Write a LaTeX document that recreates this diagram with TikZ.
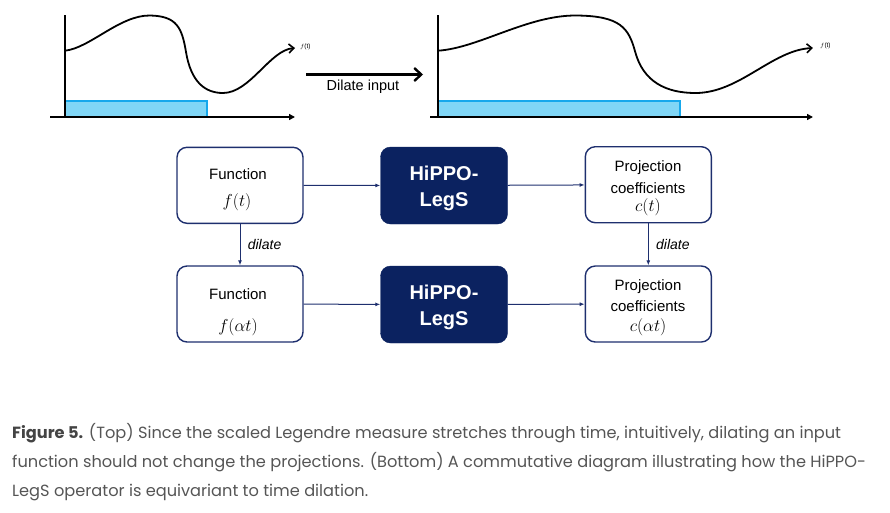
\documentclass[tikz,border=0pt]{standalone}
\usepackage{fontspec}
\setmainfont{Liberation Sans}
\newfontfamily\capfont{Poppins}
\usetikzlibrary{arrows.meta}
\definecolor{navy}{HTML}{0B2260}
\definecolor{navyline}{HTML}{1E2F6E}
\definecolor{bluefill}{HTML}{80D6F6}
\definecolor{blueline}{HTML}{16A8EC}
\definecolor{capgray}{HTML}{555555}
\definecolor{capdark}{HTML}{444444}
\begin{document}
\begin{tikzpicture}[x=1pt,y=-1pt,
  whitebox/.style={draw=navyline, line width=1.4pt, rounded corners=10pt, fill=white,
    minimum width=126pt, minimum height=76pt, inner sep=0pt},
  darkbox/.style={draw=navy, fill=navy, rounded corners=10pt,
    minimum width=127pt, minimum height=77pt, inner sep=0pt},
  boxtxt/.style={inner sep=0pt, font=\fontsize{15}{18}\selectfont},
  mathtxt/.style={inner sep=0pt, font=\fontsize{19}{22}\selectfont},
  hippotxt/.style={inner sep=0pt, text=white, font=\fontsize{20}{24}\selectfont\bfseries},
  flow/.style={draw=navyline, line width=1pt, -{Latex[length=5pt,width=4pt]}},
  lbl/.style={font=\fontsize{14}{16}\selectfont\itshape, text=black},
  curve/.style={line width=1.8pt, line cap=round, -{Straight Barb[length=5pt,width=9pt,line width=1.6pt]}},
  axis/.style={line width=1.8pt},
  band/.style={fill=bluefill, draw=blueline, line width=1.5pt},
  tiny/.style={font=\fontsize{6.5}{7}\selectfont, inner sep=0pt, anchor=west},
  capline/.style={anchor=base west, inner sep=0pt, text=capgray, font=\capfont\fontsize{16.2}{19}\selectfont}
]
\useasboundingbox (0,0) rectangle (890,512);

% ---------- left plot ----------
\draw[band] (65,101) rectangle (207,117);
\draw[axis] (65,15) -- (65,117);
\draw[axis,-{Triangle[length=6pt,width=6pt]}] (50,117) -- (295,117);
\begin{scope}[shift={(65,0)}]
\coordinate (l0) at (0,50.7);
\coordinate (ltip) at (230,48);
\draw[curve] (l0) .. controls (25,48) and (55,15) .. (85,15.5)
  .. controls (112,16) and (117,28) .. (121,52)
  .. controls (126,82) and (140,93) .. (158,93)
  .. controls (185,93) and (205,50) .. (ltip);
\end{scope}
\node[tiny] (lf) at (300,47) {$f$(t)};

% ---------- dilate input arrow ----------
\coordinate (da) at (306,74.5);
\coordinate (db) at (423,74.5);
\draw[line width=2.6pt, -{Straight Barb[length=7pt,width=13pt,line width=2.4pt]}] (da) -- (db);
\node[font=\fontsize{14.5}{16}\selectfont] (dl) at (363,87) {Dilate input};

% ---------- right plot ----------
\draw[band] (438,101) rectangle (680,117);
\draw[axis] (438,15) -- (438,117);
\draw[axis,-{Triangle[length=6pt,width=6pt]}] (430,117) -- (813,117);
\begin{scope}[shift={(438,0)}, xscale=1.63]
\coordinate (r0) at (0,50.7);
\coordinate (rtip) at (230,48);
\draw[curve] (r0) .. controls (25,48) and (55,15) .. (85,15.5)
  .. controls (112,16) and (117,28) .. (121,52)
  .. controls (126,82) and (140,93) .. (158,93)
  .. controls (185,93) and (205,50) .. (rtip);
\end{scope}
\node[tiny] (rf) at (820,46) {$f$(t)};

% ---------- commutative diagram ----------
\node[whitebox] (f1) at (240,185.3) {};
\node[darkbox]  (h1) at (444,185.5) {};
\node[whitebox] (c1) at (648.3,184.7) {};
\node[whitebox] (f2) at (240,304) {};
\node[darkbox]  (h2) at (444,304.5) {};
\node[whitebox] (c2) at (648.3,304) {};

\node[boxtxt]  (f1a) at (238,174) {Function};
\node[mathtxt] (f1b) at (237,202) {$f(t)$};
\node[hippotxt] (h1a) at (444,173.5) {HiPPO-};
\node[hippotxt] (h1b) at (444,202) {LegS};
\node[boxtxt]  (c1a) at (648,168) {Projection};
\node[boxtxt]  (c1b) at (648,188) {coefficients};
\node[mathtxt] (c1c) at (648,207) {$c(t)$};

\node[boxtxt]  (f2a) at (238,294.5) {Function};
\node[mathtxt] (f2b) at (238,327) {$f(\alpha t)$};
\node[hippotxt] (h2a) at (444,292.5) {HiPPO-};
\node[hippotxt] (h2b) at (444,321) {LegS};
\node[boxtxt]  (c2a) at (648,287) {Projection};
\node[boxtxt]  (c2b) at (648,306) {coefficients};
\node[mathtxt] (c2c) at (648,327.5) {$c(\alpha t)$};

\draw[flow] (f1) -- (h1);
\draw[flow] (h1) -- (c1);
\draw[flow] (f2) -- (h2);
\draw[flow] (h2) -- (c2);
\draw[flow] (f1) -- node[lbl, right=4pt] {dilate} (f2);
\draw[flow] (c1) -- node[lbl, right=4pt] {dilate} (c2);

% ---------- caption ----------
\node[capline] (cap1) at (12,438.5) {{\color{capdark}\bfseries Figure 5.} (Top) Since the scaled Legendre measure stretches through time, intuitively, dilating an input};
\node[capline] (cap2) at (12,467.5) {function should not change the projections. (Bottom) A commutative diagram illustrating how the HiPPO-};
\node[capline] (cap3) at (12,496) {LegS operator is equivariant to time dilation.};
\end{tikzpicture}
\end{document}
